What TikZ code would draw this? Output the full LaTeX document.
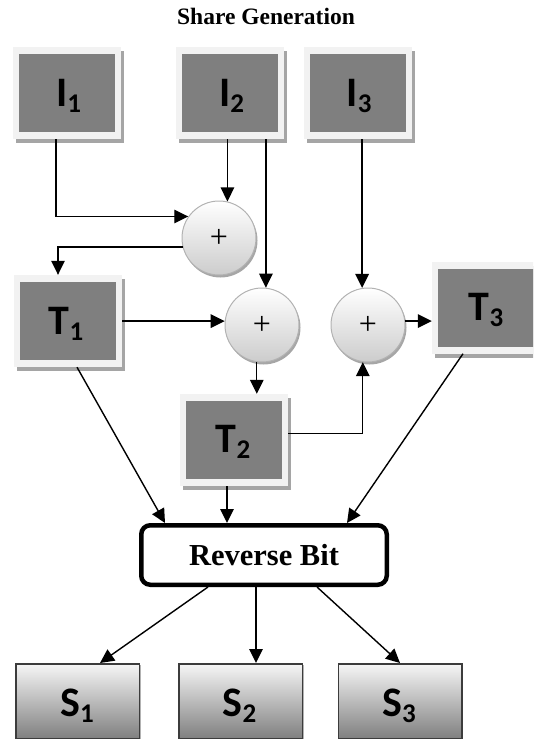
\documentclass[tikz,border=0pt]{standalone}
\usepackage{fontspec}
\setmainfont{Liberation Serif}
\newfontfamily\lblfont{Carlito}
\usetikzlibrary{arrows.meta,shadows,calc}

\definecolor{innergray}{RGB}{127,127,127}
\definecolor{framegray}{RGB}{242,242,242}
\definecolor{shadegray}{RGB}{165,165,165}
\definecolor{sboxtop}{RGB}{246,246,246}
\definecolor{sboxbot}{RGB}{128,128,128}
\definecolor{sboxline}{RGB}{60,60,60}

% box label with lowered index, e.g. I_1
\newcommand{\boxlbl}[2]{{\lblfont\bfseries\fontsize{42}{42}\selectfont #1\raisebox{-6pt}{\fontsize{27}{27}\selectfont #2}}}

\begin{document}
\begin{tikzpicture}[x=1pt,y=-1pt,
  graybox/.style={minimum width=108pt, minimum height=92pt, inner sep=0pt,
    fill=framegray,
    drop shadow={shadow xshift=3pt, shadow yshift=-4pt, fill=shadegray, opacity=1},
    path picture={\fill[innergray]
      ([shift={(6pt,7pt)}]path picture bounding box.south west) rectangle
      ([shift={(-6pt,-7pt)}]path picture bounding box.north east);}},
  lbl/.style={inner sep=0pt, text=black},
  xorop/.style={circle, minimum size=74pt, inner sep=0pt,
    draw=gray!60, line width=1pt,
    shading=axis, top color=white, bottom color=gray!40,
    drop shadow={shadow xshift=1.5pt, shadow yshift=-2.5pt, fill=gray!70, opacity=1},
    font=\fontsize{32}{32}\selectfont},
  revbox/.style={draw=black, line width=4.5pt, rounded corners=9pt, fill=white,
    minimum width=245.5pt, minimum height=59.5pt, inner sep=0pt,
    font=\bfseries\fontsize{30.5}{31}\selectfont},
  sbox/.style={draw=sboxline, line width=1.5pt, minimum width=123.5pt,
    minimum height=74.5pt, inner sep=0pt,
    shading=axis, top color=sboxtop, bottom color=sboxbot,
    drop shadow={shadow xshift=1.5pt, shadow yshift=-1pt, fill=gray!60, opacity=1}},
  arr/.style={draw=black, line width=1.4pt, -{Triangle[length=14pt,width=13.5pt]}}
]
\useasboundingbox (0,0) rectangle (533,741);
\clip (0,0) rectangle (533,741);

% title
\node[font=\bfseries\fontsize{23.5}{24}\selectfont] (title) at (266,16) {Share Generation};

% input images
\node[graybox] (I1) at (66.5,93) {};
\node[graybox] (I2) at (229.5,93) {};
\node[graybox] (I3) at (358,93) {};
\node[lbl] (I1t) at (68.5,95.5) {\boxlbl{I}{1}};
\node[lbl] (I2t) at (231.5,95.5) {\boxlbl{I}{2}};
\node[lbl] (I3t) at (359,95.5) {\boxlbl{I}{3}};

% XOR operators
\node[xorop] (c1) at (219,238) {+};
\node[xorop] (c2) at (262,325) {+};
\node[xorop] (c3) at (368,325) {+};

% intermediate results
\node[graybox] (T1) at (68,321) {};
\node[graybox] (T2) at (234,440) {};
\node[graybox] (T3) at (486,307.5) {};
\node[lbl] (T1t) at (66,323.5) {\boxlbl{T}{1}};
\node[lbl] (T2t) at (233,441.5) {\boxlbl{T}{2}};
\node[lbl] (T3t) at (486,310) {\boxlbl{T}{3}};

% bit reversal
\node[revbox] (RB) at (264,555) {Reverse Bit};

% shares
\node[sbox] (S1) at (77.5,701) {};
\node[sbox] (S2) at (240.5,701) {};
\node[sbox] (S3) at (400,701) {};
\node[lbl] (S1t) at (77,705.5) {\boxlbl{S}{1}};
\node[lbl] (S2t) at (239.5,705.5) {\boxlbl{S}{2}};
\node[lbl] (S3t) at (399,705.5) {\boxlbl{S}{3}};

% connectors
\draw[arr] ([xshift=-10.5pt]I1.south) |- (c1.145);
\draw[arr] (I2.south -| c1.77) -- (c1.77);
\draw[arr] (c1.194) -| ([xshift=-10pt]T1.north);
\draw[arr] (I2.south -| c2.84) -- (c2.84);
\draw[arr] (T1.east |- c2.174) -- (c2.174);
\draw[arr] (I3.south -| c3.99) -- (c3.99);
\draw[arr] (c3.6) -- (T3.west |- c3.6);
\draw[arr] (c2.262) -- (c2.262 |- T2.north);
\draw[arr] ([yshift=6.5pt]T2.east) -| (c3.262);

\draw[arr] ([xshift=9pt]T1.south) -- ([xshift=-99pt]RB.north);
\draw[arr] ([xshift=-7pt]T2.south) -- ([xshift=-7pt]T2.south |- RB.north);
\draw[arr] ([xshift=-23pt]T3.south) -- ([xshift=83pt]RB.north);

\draw[arr] ([xshift=-56pt]RB.south) -- ([xshift=22.5pt]S1.north);
\draw[arr] ([xshift=-8pt]RB.south) -- ([xshift=-8pt]RB.south |- S2.north);
\draw[arr] ([xshift=53pt]RB.south) -- (S3.north);
\end{tikzpicture}
\end{document}
